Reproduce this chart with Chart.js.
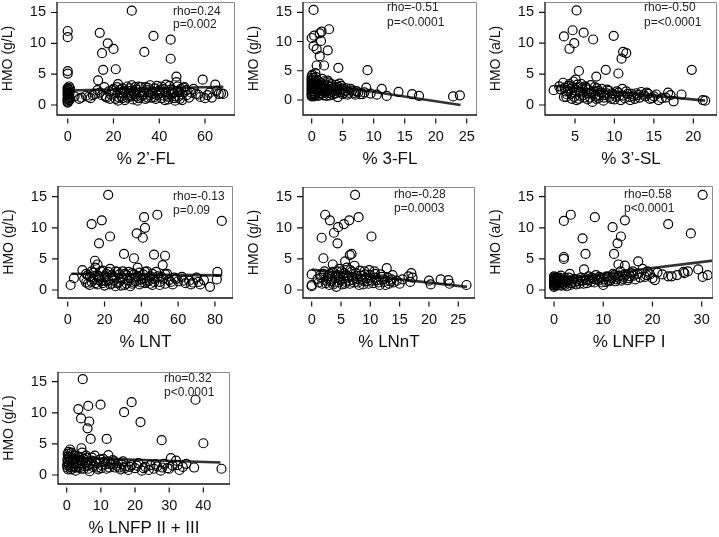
<!DOCTYPE html>
<html>
<head>
<meta charset="utf-8">
<title>HMO vs HMO composition</title>
<script src="https://cdn.jsdelivr.net/npm/chart.js@4.4.1/dist/chart.umd.min.js"></script>
<style>
    html, body { margin: 0; padding: 0; background: #fff; overflow: hidden; }
    #page { position: relative; width: 719px; height: 537px; }
    canvas { position: absolute; }
</style>
</head>
<body>
<div id="page"></div>
<script>
// ---- tick labels ----
const hmoTicks = [0, 5, 10, 15];
const fl2Ticks = [0, 20, 40, 60];
const fl3Ticks = [0, 5, 10, 15, 20, 25];
const sl3Ticks = [5, 10, 15, 20];
const lntTicks = [0, 20, 40, 60, 80];
const lnntTicks = [0, 5, 10, 15, 20, 25];
const lnfp1Ticks = [0, 10, 20, 30];
const lnfp23Ticks = [0, 10, 20, 30, 40];

// ---- samples: [% of HMO, total HMO g/L] ----
const fl2Pts = [
    [28, 15.3], [0, 12.0], [0, 11.0], [14, 11.7], [37.5, 11.2], [45, 10.6], [17.5, 10.0], [20, 9.1], [15, 8.4],
    [33.5, 8.6], [45, 7.5], [15.5, 5.7], [21, 5.8], [0, 5.5], [0, 5.1], [13.3, 4.0], [59, 4.1], [47.5, 4.6],
    [47.5, 3.7], [64.5, 3.3], [67, 1.9], [68, 1.8],
    [0, 0.4], [0, 0.7], [0, 1.0], [0.5, 1.3], [0, 1.6], [0.4, 1.9], [0, 2.2], [0.3, 2.5], [0, 2.8], [0.6, 3.0],
    [0, 0.9], [0.2, 1.4], [3, 1.4], [6, 1.2], [8, 1.5], [10, 1.1], [12, 1.8], [13, 2.4], [15, 1.6], [16, 2.9],
    [17, 1.2], [18, 2.2], [19, 1.7], [20, 2.6], [21, 1.0], [22, 3.4], [23, 2.0], [23.5, 1.4], [24, 2.7], [25, 0.8],
    [25.5, 1.9], [26, 3.0], [27, 1.3], [27.5, 2.3], [28.5, 0.9], [29, 1.7], [30, 2.5], [31, 1.1], [32, 2.9],
    [32.5, 1.5], [33, 2.1], [34, 1.0], [35, 2.8], [36, 1.6], [37, 2.2], [38, 1.3], [39, 3.1], [40, 1.9], [41, 1.1],
    [42, 2.6], [43, 3.3], [44, 0.9], [45, 1.7], [46, 2.4], [47, 0.7], [48, 3.0], [48.5, 1.4], [49, 2.1], [50, 0.8],
    [51, 2.9], [52, 1.6], [54, 2.0], [56, 1.8], [58, 1.3], [60, 1.1], [62, 2.0], [65, 2.3],
    [22.5, 1.2], [24.5, 2.3], [26.5, 1.6], [29.5, 2.9], [31.5, 2.0], [34.5, 2.4], [36.5, 1.2], [40.5, 2.5],
    [43.5, 1.5], [46.5, 1.1], [49.5, 2.6],
    [0, 0.55], [0, 1.2], [0, 1.75], [0, 2.05], [0, 2.35], [0, 2.65], [0.8, 0.8], [0.8, 2.0], [1, 1.1], [1, 2.7],
    [5, 1.0], [9, 1.3], [11, 1.6], [14, 2.0], [16.5, 1.4], [18.5, 1.0], [19.5, 2.4], [20.5, 1.9], [21.5, 2.9],
    [22, 0.7], [23, 2.5], [24, 1.1], [25, 2.2], [26, 1.2], [27, 2.7], [28, 1.5], [28, 3.2], [29, 2.2], [30, 1.4],
    [30.5, 0.7], [31, 3.0], [32, 1.3], [33, 1.7], [34, 2.9], [35, 1.2], [35.5, 2.0], [36, 3.2], [37, 1.8],
    [38, 2.7], [38.5, 1.0], [39, 1.6], [40, 2.2], [41, 3.0], [42, 1.5], [42.5, 0.8], [43, 2.1], [44, 1.3],
    [44.5, 3.1], [45, 2.5], [46, 1.9], [47, 1.4], [48, 2.3], [49, 1.0], [50, 1.7], [50.5, 2.8], [52, 2.4],
    [53, 1.2], [55, 2.6], [57, 1.7], [61, 1.6], [63, 1.2], [66, 1.8]
];
const fl3Pts = [
    [0.3, 15.4], [2.8, 12.1], [1.6, 11.7], [0.4, 11.0], [1.3, 11.4], [0.0, 10.6], [1.5, 10.1], [0.3, 9.2],
    [0.8, 8.7], [2.6, 8.5], [1.3, 7.5], [0.8, 5.9], [2.0, 5.9], [4.3, 5.5], [9.0, 5.1], [0.6, 4.6], [2.6, 3.3],
    [4.5, 2.8], [8.8, 2.1], [11.3, 1.9], [14.0, 1.4], [16.2, 1.0], [17.3, 0.7], [22.8, 0.6], [23.9, 0.8],
    [10.5, 0.9], [12.1, 0.7],
    [0, 0.6], [0, 1.0], [0, 1.5], [0, 2.0], [0, 2.5], [0, 3.0], [0, 3.5], [0, 4.1], [0.2, 1.2], [0.2, 2.2],
    [0.3, 3.8], [0.5, 0.8], [0.5, 1.8], [0.6, 2.7], [0.8, 3.4], [0.9, 1.3], [1.0, 2.3], [1.2, 0.9], [1.3, 1.7],
    [1.5, 2.9], [1.7, 1.1], [1.8, 2.0], [2.0, 3.2], [2.2, 1.5], [2.4, 0.7], [2.5, 2.5], [2.8, 1.2], [3.0, 1.9],
    [3.2, 2.7], [3.4, 0.9], [3.6, 1.6], [3.8, 2.2], [4.0, 1.2], [4.2, 0.5], [4.5, 1.8], [4.8, 2.4], [5.0, 1.0],
    [5.3, 1.5], [5.6, 2.0], [6.0, 1.2], [6.5, 1.6], [7.0, 0.9], [7.5, 1.3], [8.2, 1.0], [9.5, 1.1],
    [0, 0.8], [0, 1.2], [0, 1.8], [0, 2.3], [0, 2.8], [0, 3.3], [0, 3.8], [0.1, 4.3], [0.3, 1.5], [0.3, 2.6],
    [0.4, 3.1], [0.4, 0.6], [0.6, 1.1], [0.7, 2.0], [0.7, 3.9], [0.9, 2.8], [1.0, 1.6], [1.1, 0.7], [1.1, 3.2],
    [1.3, 2.5], [1.4, 1.2], [1.6, 1.9], [1.7, 3.6], [1.9, 0.8], [2.0, 2.6], [2.1, 1.3], [2.3, 2.1], [2.6, 1.7],
    [2.7, 3.0], [2.9, 0.8], [3.1, 2.3], [3.3, 1.4], [3.5, 2.0], [3.7, 1.1], [3.9, 2.6], [4.1, 1.6], [4.4, 2.2],
    [4.6, 1.3], [4.9, 1.9], [5.2, 1.2], [5.5, 1.6], [5.8, 0.9], [6.3, 1.9], [6.8, 1.2], [7.2, 1.5], [7.8, 1.0],
    [8.5, 1.3]
];
const sl3Pts = [
    [5.2, 15.3], [4.7, 12.1], [3.6, 11.1], [6.1, 11.7], [9.9, 11.2], [7.3, 10.6], [4.9, 10.0], [4.3, 9.1],
    [11.1, 8.6], [11.5, 8.4], [10.9, 7.5], [8.9, 5.7], [10.5, 5.1], [19.8, 5.7], [5.5, 5.5], [7.7, 4.6],
    [5.1, 4.1], [2.3, 2.4], [3.6, 1.3], [21.5, 0.7], [21.2, 0.8], [17.1, 1.6], [18.5, 1.7],
    [3.0, 3.0], [3.5, 3.6], [3.8, 2.2], [4.0, 1.7], [4.2, 3.1], [4.4, 2.6], [4.6, 1.0], [4.8, 3.8], [5.0, 2.0],
    [5.2, 0.8], [5.4, 2.9], [5.6, 1.5], [5.8, 3.4], [6.0, 2.4], [6.2, 1.2], [6.4, 2.8], [6.6, 0.9], [6.8, 1.9],
    [7.0, 3.2], [7.2, 0.5], [7.4, 2.2], [7.6, 1.4], [7.8, 2.7], [8.0, 1.1], [8.3, 2.0], [8.6, 0.7], [8.8, 1.6],
    [9.1, 2.5], [9.4, 1.3], [9.7, 1.9], [10.0, 0.9], [10.3, 2.2], [10.6, 1.5], [11.0, 2.6], [11.3, 1.1],
    [11.7, 1.8], [12.0, 0.8], [12.4, 1.4], [12.8, 1.9], [13.2, 1.2], [13.7, 1.7], [14.1, 2.0], [14.5, 1.0],
    [15.0, 1.4], [15.6, 0.8], [16.5, 1.2], [16.8, 2.0], [17.5, 0.6],
    [3.2, 2.5], [3.7, 2.8], [3.9, 1.3], [4.1, 2.3], [4.3, 3.4], [4.5, 1.8], [4.7, 2.9], [4.9, 1.3], [5.1, 2.4],
    [5.3, 3.3], [5.5, 1.0], [5.7, 2.0], [5.9, 2.7], [6.1, 1.6], [6.3, 3.0], [6.5, 1.9], [6.7, 2.5], [6.9, 1.2],
    [7.1, 2.1], [7.3, 1.7], [7.5, 2.9], [7.7, 1.0], [7.9, 2.3], [8.1, 1.6], [8.4, 2.6], [8.7, 1.2], [9.0, 1.9],
    [9.3, 2.3], [9.6, 1.0], [9.9, 1.7], [10.2, 1.3], [10.5, 2.0], [10.8, 0.8], [11.1, 1.5], [11.5, 2.2],
    [11.9, 1.3], [12.2, 1.8], [12.6, 1.0], [13.0, 1.6], [13.4, 2.1], [13.9, 1.4], [14.3, 1.8], [14.8, 1.1],
    [15.3, 1.7], [16.0, 1.1]
];
const lntPts = [
    [22, 15.3], [13, 10.6], [18.5, 11.2], [41.5, 11.7], [48.7, 12.1], [83.7, 11.1], [42, 10.0], [37.5, 9.1],
    [40.8, 8.4], [23, 8.6], [17, 7.5], [30.6, 5.8], [46.9, 5.7], [36, 5.1], [52.9, 5.5], [51.6, 4.0], [14.8, 4.7],
    [16.2, 4.1], [81.3, 2.9], [1.6, 0.8], [3.4, 1.9], [77.3, 0.5], [81, 1.7],
    [8, 3.2], [10, 1.2], [11, 2.4], [12, 0.8], [13, 3.0], [14, 1.7], [15, 3.6], [16, 0.9], [17, 2.2], [18, 1.4],
    [19, 3.1], [20, 0.7], [21, 2.6], [22, 1.6], [23, 3.4], [24, 1.0], [25, 2.1], [26, 0.6], [27, 2.9], [28, 1.3],
    [29, 1.9], [30, 3.0], [31, 0.8], [32, 2.4], [33, 1.5], [34, 0.6], [35, 2.7], [36, 1.2], [37, 2.0], [38, 3.6],
    [39, 0.9], [40, 1.7], [41, 2.5], [42, 1.1], [43, 3.0], [44, 1.5], [45, 2.2], [46, 0.8], [47, 1.8], [48, 2.9],
    [50, 1.3], [51, 2.1], [53, 1.0], [54, 2.6], [55, 1.6], [57, 0.9], [58, 2.0], [60, 1.4], [62, 2.1], [64, 1.1],
    [66, 1.5], [68, 1.2], [70, 2.0], [72, 0.9], [74, 1.6],
    [9, 1.8], [10, 2.6], [11, 1.0], [12, 2.1], [13, 1.3], [14, 2.8], [15, 1.1], [16, 2.4], [17, 1.6], [18, 3.0],
    [19, 1.1], [20, 2.2], [21, 1.4], [22, 2.9], [23, 0.9], [24, 2.4], [25, 1.5], [26, 3.0], [27, 1.1], [28, 2.5],
    [29, 0.7], [30, 1.8], [31, 2.6], [32, 1.0], [33, 2.9], [34, 1.9], [35, 1.0], [36, 2.5], [37, 1.4], [38, 2.2],
    [39, 2.8], [40, 1.2], [41, 1.9], [42, 2.9], [43, 1.3], [44, 2.0], [45, 1.0], [46, 2.6], [47, 1.3], [49, 2.2],
    [50, 0.8], [52, 1.8], [53, 2.5], [56, 1.3], [59, 1.8], [63, 1.5], [67, 0.9], [71, 1.3]
];
const lnntPts = [
    [7.4, 15.3], [2.3, 12.1], [3.1, 11.2], [6.4, 11.2], [8.0, 11.7], [5.5, 10.6], [4.5, 10.1], [3.8, 9.2],
    [1.7, 8.4], [10.2, 8.6], [4.4, 7.5], [6.8, 5.8], [6.5, 5.6], [2.0, 5.1], [5.7, 4.6], [3.6, 4.1], [0, 2.5],
    [0, 0.8], [0, 0.6], [26.4, 0.8], [22, 1.7], [23.3, 1.6], [23.5, 1.0], [20, 1.5], [20.3, 0.9], [17, 2.7],
    [16.5, 2.2], [17.2, 2.0], [15, 1.0], [16.8, 1.3],
    [1.0, 1.8], [1.5, 2.4], [1.8, 1.0], [2.2, 3.0], [2.5, 1.5], [2.8, 2.2], [3.0, 0.8], [3.3, 1.8], [3.6, 2.9],
    [3.9, 1.2], [4.2, 0.5], [4.4, 2.4], [4.7, 3.4], [5.0, 1.6], [5.2, 0.9], [5.5, 2.7], [5.8, 1.3], [6.0, 3.6],
    [6.2, 2.0], [6.5, 1.0], [6.8, 2.9], [7.0, 1.6], [7.3, 3.9], [7.6, 2.3], [7.9, 1.2], [8.2, 3.1], [8.5, 1.8],
    [8.8, 0.9], [9.1, 2.5], [9.5, 1.4], [9.8, 3.2], [10.1, 2.0], [10.5, 1.1], [10.8, 2.6], [11.2, 1.6],
    [11.6, 0.8], [12.0, 2.1], [12.4, 1.3], [12.8, 3.5], [13.2, 1.0], [13.6, 1.7], [14.0, 1.2],
    [1.2, 1.2], [1.6, 2.0], [2.0, 2.6], [2.4, 1.1], [2.7, 1.9], [3.1, 2.6], [3.4, 1.4], [3.7, 0.9], [4.0, 2.0],
    [4.3, 3.0], [4.6, 1.3], [4.9, 2.2], [5.1, 3.0], [5.4, 1.9], [5.7, 1.0], [5.9, 2.4], [6.3, 1.5], [6.6, 3.2],
    [6.9, 2.1], [7.2, 1.2], [7.5, 2.7], [7.8, 1.8], [8.1, 0.8], [8.4, 2.3], [8.7, 1.5], [9.0, 3.0], [9.3, 1.9],
    [9.7, 1.0], [10.0, 2.4], [10.3, 1.5], [10.7, 3.0], [11.0, 2.0], [11.4, 1.2], [11.8, 2.5], [12.2, 1.7],
    [12.6, 0.8], [13.0, 2.0], [13.4, 1.4], [13.8, 2.4], [14.5, 1.5], [15.5, 1.7]
];
const lnfp1Pts = [
    [30.2, 15.3], [2.0, 11.1], [3.4, 12.1], [8.3, 11.7], [14.4, 11.2], [23.2, 10.6], [11.9, 10.1], [27.8, 9.1],
    [13.6, 8.6], [5.8, 8.3], [12.9, 7.5], [12.2, 5.8], [6.4, 5.8], [2.0, 5.3], [2.0, 5.0], [6.1, 3.3], [17.1, 4.6],
    [13.1, 4.1], [14.4, 3.9], [29.3, 3.3], [30.2, 2.1], [31.2, 2.4], [23.2, 2.2], [23.9, 2.2], [26.3, 2.9],
    [20.5, 1.6],
    [0, 0.7], [0, 1.0], [0, 1.3], [0, 1.6], [0, 1.9], [0, 2.2], [0.3, 0.9], [0.4, 1.5], [0.6, 2.0], [0.8, 1.2],
    [1.0, 1.7], [1.2, 0.8], [1.4, 2.3], [1.7, 1.4], [2.0, 1.0], [2.3, 1.9], [2.6, 0.6], [2.9, 1.5], [3.2, 2.6],
    [3.5, 1.1], [4.0, 1.8], [4.5, 0.9], [5.0, 1.4], [5.5, 2.0], [6.0, 1.0], [6.5, 1.6], [7.0, 2.2], [7.5, 1.3],
    [8.0, 1.8], [8.5, 2.4], [9.0, 1.5], [9.5, 1.9], [10.0, 0.8], [10.5, 1.3], [11.0, 2.1], [11.5, 1.6],
    [12.0, 2.6], [12.5, 1.4], [13.0, 2.0], [13.5, 3.0], [14.0, 1.8], [14.5, 2.5], [15.0, 1.6], [15.5, 2.2],
    [16.0, 3.0], [16.5, 1.7], [17.0, 2.6], [18.0, 3.4], [18.5, 2.1], [19.0, 3.0], [19.5, 2.5], [20.0, 1.9],
    [21.0, 2.8], [22.0, 2.5], [25.0, 2.4], [26.5, 2.7], [27.2, 3.0],
    [0, 0.5], [0, 0.85], [0, 1.15], [0, 1.45], [0, 1.75], [0, 2.05], [0.2, 1.2], [0.5, 0.7], [0.5, 1.8],
    [0.7, 1.0], [0.9, 1.5], [1.1, 2.0], [1.3, 1.1], [1.5, 0.7], [1.6, 1.7], [1.9, 1.3], [2.2, 0.8], [2.4, 1.6],
    [2.7, 1.2], [3.0, 2.0], [3.3, 0.8], [3.7, 1.5], [4.2, 1.2], [4.7, 1.7], [5.2, 1.0], [5.7, 1.5], [6.2, 1.9],
    [6.7, 1.1], [7.2, 1.6], [7.7, 2.0], [8.2, 1.2], [8.7, 1.7], [9.2, 2.1], [9.7, 1.2], [10.2, 1.7], [10.7, 2.2],
    [11.2, 1.4], [11.7, 1.9], [12.2, 2.4], [12.7, 1.7], [13.2, 2.3], [13.7, 1.5], [14.2, 2.1], [15.2, 1.9],
    [15.7, 2.7], [16.2, 2.3], [17.5, 2.0], [18.8, 2.4]
];
const lnfp23Pts = [
    [4.7, 15.4], [3.4, 10.6], [6.3, 11.1], [9.9, 11.3], [19.0, 11.7], [37.7, 12.1], [16.8, 10.1], [4.2, 9.1],
    [6.6, 8.6], [21.6, 8.5], [6.1, 7.5], [7.0, 5.8], [11.7, 5.8], [27.8, 5.6], [40, 5.1], [4.3, 4.3],
    [45.3, 1.0], [37.3, 1.2], [30.5, 2.7], [32, 2.3],
    [0.2, 1.2], [0.3, 2.1], [0.4, 3.0], [0.5, 3.7], [0.7, 1.6], [0.9, 2.6], [1.0, 4.1], [1.2, 0.9], [1.5, 2.0],
    [1.8, 3.3], [2.0, 1.4], [2.3, 2.6], [2.6, 0.7], [3.0, 1.8], [3.3, 3.0], [3.6, 1.2], [4.0, 2.3], [4.5, 3.6],
    [5.0, 1.0], [5.4, 2.0], [5.8, 2.8], [6.2, 1.5], [6.7, 0.6], [7.2, 2.3], [7.7, 1.3], [8.2, 3.1], [8.7, 1.9],
    [9.2, 0.9], [9.8, 2.5], [10.4, 1.5], [11.0, 2.1], [11.6, 1.0], [12.2, 3.2], [12.8, 1.7], [13.5, 2.4],
    [14.2, 1.2], [15.0, 1.9], [15.8, 0.9], [16.5, 2.2], [17.3, 1.4], [18.0, 0.8], [19.0, 1.6], [20.0, 1.1],
    [21.0, 1.9], [22.0, 0.7], [23.0, 1.3], [24.5, 1.6], [25.5, 1.0], [26.5, 1.4], [27.5, 0.7], [28.5, 1.8],
    [29.5, 1.1], [31.0, 1.5], [33.0, 0.8], [34.0, 1.3], [35.0, 1.8],
    [0.1, 1.6], [0.2, 2.5], [0.3, 3.4], [0.4, 0.9], [0.6, 1.9], [0.8, 2.9], [1.1, 1.3], [1.3, 2.3], [1.4, 3.6],
    [1.7, 1.0], [1.9, 2.5], [2.1, 1.8], [2.4, 3.1], [2.8, 1.2], [3.1, 2.3], [3.4, 1.5], [3.8, 2.8], [4.2, 1.0],
    [4.6, 1.9], [4.9, 2.6], [5.2, 1.4], [5.6, 3.1], [6.0, 2.1], [6.4, 1.0], [6.9, 1.8], [7.4, 2.8], [7.9, 1.6],
    [8.4, 2.2], [8.9, 1.2], [9.5, 2.0], [10.1, 1.1], [10.7, 2.6], [11.3, 1.7], [11.9, 2.2], [12.5, 1.2],
    [13.2, 1.8], [13.9, 2.2], [14.6, 1.5], [15.4, 1.2], [16.2, 1.7], [17.0, 1.1], [18.5, 1.3], [20.5, 1.5],
    [22.5, 1.1], [24.0, 0.8], [26.0, 1.7], [28.0, 1.2], [30.0, 1.0], [32.5, 1.6]
];

// ---- fitted lines (end points) ----
const fl2Fit = [[0, 2.35], [68, 2.95]];
const fl3Fit = [[0, 3.0], [24, -0.85]];
const sl3Fit = [[2.5, 3.1], [21.5, 0.7]];
const lntFit = [[2, 2.6], [84, 2.35]];
const lnntFit = [[0, 3.3], [26.5, 0.5]];
const lnfp1Fit = [[0, 1.6], [32.7, 4.75]];
const lnfp23Fit = [[0, 2.8], [45, 2.0]];

// ---- correlation text ----
const fl2Stats = ['rho=0.24', 'p=0.002'];
const fl3Stats = ['rho=-0.51', 'p=<0.0001'];
const sl3Stats = ['rho=-0.50', 'p=<0.0001'];
const lntStats = ['rho=-0.13', 'p=0.09'];
const lnntStats = ['rho=-0.28', 'p=0.0003'];
const lnfp1Stats = ['rho=0.58', 'p<0.0001'];
const lnfp23Stats = ['rho=0.32', 'p<0.0001'];

// layout: box = [left, top, right, bottom] of the plot frame on the page
const panels = [
    { pts: fl2Pts, fit: fl2Fit, ticks: fl2Ticks, stats: fl2Stats, xTitle: '% 2\u2019-FL', yTitle: 'HMO (g/L)',
      box: [57, 2, 235, 115], x: [-4.68, 73.12], y: [-1.62, 16.7], note: [173, 12, 24.5] },
    { pts: fl3Pts, fit: fl3Fit, ticks: fl3Ticks, stats: fl3Stats, xTitle: '% 3-FL', yTitle: 'HMO (g/L)',
      box: [303, 2, 477, 115], x: [-1.4, 26.66], y: [-2.57, 16.76], note: [387, 8, 22.5] },
    { pts: sl3Pts, fit: sl3Fit, ticks: sl3Ticks, stats: sl3Stats, xTitle: '% 3\u2019-SL', yTitle: 'HMO (a/L)',
      box: [545, 2, 717, 115], x: [1.2, 23.0], y: [-1.62, 16.67], note: [644, 8, 23] },
    { pts: lntPts, fit: lntFit, ticks: lntTicks, stats: lntStats, xTitle: '% LNT', yTitle: 'HMO (g/L)',
      box: [58, 186, 233, 298], x: [-5.27, 89.8], y: [-1.29, 16.72], note: [173, 197, 211] },
    { pts: lnntPts, fit: lnntFit, ticks: lnntTicks, stats: lnntStats, xTitle: '% LNnT', yTitle: 'HMO (g/L)',
      box: [303, 187, 475, 298], x: [-1.48, 27.85], y: [-1.29, 16.56], note: [394, 194.5, 209] },
    { pts: lnfp1Pts, fit: lnfp1Fit, ticks: lnfp1Ticks, stats: lnfp1Stats, xTitle: '% LNFP I', yTitle: 'HMO (a/L)',
      box: [545, 186, 713, 298], x: [-1.83, 32.3], y: [-1.29, 16.72], note: [624, 195, 209] },
    { pts: lnfp23Pts, fit: lnfp23Fit, ticks: lnfp23Ticks, stats: lnfp23Stats, xTitle: '% LNFP II + III', yTitle: 'HMO (g/L)',
      box: [58, 372, 230, 484], x: [-2.55, 47.8], y: [-1.45, 16.56], note: [164, 379, 392.5] }
];

const FONT = '"Liberation Sans", Arial, Helvetica, sans-serif';
const Y_AXIS_W = 57;
const X_AXIS_H = 55;
const PAD_TOP = 2;
const PAD_RIGHT = 2;

/**
 * Frame, detached tick marks and the rho / p note
 */
const framePlugin = {
    id: 'frame',
    afterDraw(chart, args, opts) {
        const { ctx, chartArea: a, scales } = chart;
        ctx.save();

        // light top / right edges
        ctx.strokeStyle = '#8a8a8a';
        ctx.lineWidth = 1;
        ctx.beginPath();
        ctx.moveTo(a.left, a.top + 0.5);
        ctx.lineTo(a.right - 0.5, a.top + 0.5);
        ctx.lineTo(a.right - 0.5, a.bottom);
        ctx.stroke();

        // dark left / bottom edges
        ctx.strokeStyle = '#111';
        ctx.lineWidth = 1.3;
        ctx.beginPath();
        ctx.moveTo(a.left, a.top);
        ctx.lineTo(a.left, a.bottom);
        ctx.lineTo(a.right, a.bottom);
        ctx.stroke();

        // tick marks
        ctx.lineWidth = 1.2;
        ctx.beginPath();
        scales.y.ticks.forEach(t => {
            const py = scales.y.getPixelForValue(t.value);
            ctx.moveTo(a.left - 6, py);
            ctx.lineTo(a.left, py);
        });
        scales.x.ticks.forEach(t => {
            const px = scales.x.getPixelForValue(t.value);
            ctx.moveTo(px, a.bottom + 3.5);
            ctx.lineTo(px, a.bottom + 8.5);
        });
        ctx.stroke();

        // correlation note
        ctx.fillStyle = '#222';
        ctx.font = '12px ' + FONT;
        ctx.textBaseline = 'middle';
        ctx.textAlign = 'left';
        ctx.fillText(opts.lines[0], opts.x, opts.y1);
        ctx.fillText(opts.lines[1], opts.x, opts.y2);
        ctx.restore();
    }
};

/**
 * Build one panel
 */
function drawPanel(p) {
    const [bl, bt, br, bb] = p.box;
    const left = bl - Y_AXIS_W;
    const top = bt - PAD_TOP;
    const width = Math.round(br - left + PAD_RIGHT);
    const height = Math.round(bb - top + X_AXIS_H);

    const canvas = document.createElement('canvas');
    canvas.width = width;
    canvas.height = height;
    canvas.style.left = left + 'px';
    canvas.style.top = top + 'px';
    document.getElementById('page').appendChild(canvas);

    const tickFont = { family: FONT, size: 14.5 };

    new Chart(canvas, {
        type: 'scatter',
        data: {
            datasets: [{
                data: p.pts.map(d => ({ x: d[0], y: d[1] })),
                pointRadius: 4.5,
                pointBorderWidth: 1.2,
                borderColor: '#000',
                backgroundColor: 'rgba(0,0,0,0)',
                pointHoverRadius: 4.5
            }, {
                type: 'line',
                data: p.fit.map(d => ({ x: d[0], y: d[1] })),
                borderColor: '#333',
                borderWidth: 2.6,
                pointRadius: 0,
                fill: false
            }]
        },
        options: {
            responsive: false,
            animation: false,
            devicePixelRatio: 1,
            events: [],
            layout: { autoPadding: false, padding: { top: PAD_TOP, right: PAD_RIGHT, left: 0, bottom: 0 } },
            plugins: {
                legend: { display: false },
                tooltip: { enabled: false },
                frame: {
                    lines: p.stats,
                    x: p.note[0] - left,
                    y1: p.note[1] - top,
                    y2: p.note[2] - top
                }
            },
            scales: {
                x: {
                    type: 'linear',
                    min: p.x[0],
                    max: p.x[1],
                    grid: { display: false, drawTicks: false },
                    border: { display: false },
                    afterBuildTicks: s => { s.ticks = p.ticks.map(v => ({ value: v })); },
                    afterFit: s => { s.height = X_AXIS_H; s.paddingLeft = 0; s.paddingRight = 0; },
                    ticks: { font: tickFont, color: '#111', padding: 13, maxRotation: 0, autoSkip: false },
                    title: { display: true, text: p.xTitle, color: '#111', font: { family: FONT, size: 17 }, padding: 0 }
                },
                y: {
                    type: 'linear',
                    min: p.y[0],
                    max: p.y[1],
                    grid: { display: false, drawTicks: false },
                    border: { display: false },
                    afterBuildTicks: s => { s.ticks = hmoTicks.map(v => ({ value: v })); },
                    afterFit: s => { s.width = Y_AXIS_W; s.paddingTop = 0; s.paddingBottom = 0; },
                    ticks: { font: tickFont, color: '#111', padding: 11, autoSkip: false },
                    title: { display: true, text: p.yTitle, color: '#111', font: { family: FONT, size: 14 }, padding: 0 }
                }
            }
        },
        plugins: [framePlugin]
    });
}

panels.forEach(drawPanel);
</script>
</body>
</html>
